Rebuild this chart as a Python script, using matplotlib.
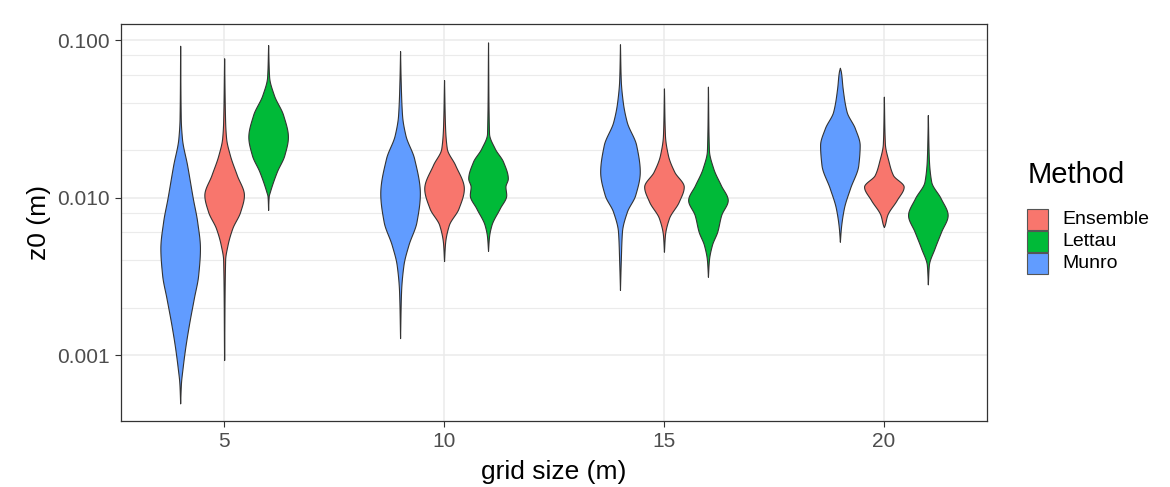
import numpy as np
import matplotlib
matplotlib.use("Agg")
import matplotlib.pyplot as plt
from matplotlib.ticker import FixedLocator, NullFormatter
from matplotlib.patches import Rectangle

plt.rcParams['font.family'] = ['Liberation Sans', 'DejaVu Sans']

# ---------------- data ----------------
grid_sizes = [5, 10, 15, 20]
methods = ["Ensemble", "Lettau", "Munro"]
method_offset = [0, 1, -1]          # x shift of each method from the grid size
method_colors = ["#F8766D", "#00BA38", "#619CFF"]

y_ticks = [0.001, 0.01, 0.1]
y_tick_labels = ["0.001", "0.010", "0.100"]
x_ticks = [5, 10, 15, 20]

# violin profiles: z0 levels (m) and relative half-width (0..1)
ens_5_z = [0.0766, 0.0303, 0.0238, 0.0186, 0.0139, 0.01038, 0.00813, 0.00637, 0.00499, 0.00401, 0.000929]
ens_5_w = [0.0, 0.05, 0.10, 0.29, 0.64, 1.0, 0.81, 0.41, 0.17, 0.05, 0.0]
let_5_z = [0.0929, 0.0585, 0.0448, 0.0334, 0.0243, 0.0186, 0.0146, 0.01089, 0.0102, 0.00834]
let_5_w = [0.0, 0.05, 0.29, 0.76, 1.0, 0.82, 0.44, 0.09, 0.03, 0.0]
mun_5_z = [0.0920, 0.0318, 0.0238, 0.0161, 0.00989, 0.00703, 0.00476, 0.00322, 0.00229, 0.00155, 0.00110, 0.000822, 0.000661, 0.000493]
mun_5_w = [0.0, 0.03, 0.09, 0.35, 0.64, 0.86, 1.0, 0.91, 0.69, 0.44, 0.25, 0.12, 0.04, 0.0]

ens_10_z = [0.0557, 0.0282, 0.0205, 0.0161, 0.01143, 0.00853, 0.00668, 0.00512, 0.00395]
ens_10_w = [0.0, 0.05, 0.14, 0.56, 1.0, 0.73, 0.24, 0.05, 0.0]
let_10_z = [0.0966, 0.0256, 0.0205, 0.0169, 0.01324, 0.01172, 0.01038, 0.00853, 0.00668, 0.00564, 0.00459]
let_10_w = [0.0, 0.05, 0.34, 0.76, 1.0, 0.88, 0.92, 0.59, 0.17, 0.05, 0.0]
mun_10_z = [0.0851, 0.0557, 0.0334, 0.0249, 0.0177, 0.01062, 0.00703, 0.00499, 0.00372, 0.00252, 0.00128]
mun_10_w = [0.0, 0.03, 0.10, 0.27, 0.71, 1.0, 0.83, 0.42, 0.17, 0.05, 0.0]

ens_15_z = [0.0493, 0.0249, 0.0186, 0.0146, 0.01172, 0.00942, 0.00738, 0.00578, 0.00453]
ens_15_w = [0.0, 0.05, 0.20, 0.52, 1.0, 0.75, 0.25, 0.05, 0.0]
let_15_z = [0.0506, 0.0200, 0.0153, 0.0120, 0.00964, 0.00774, 0.00607, 0.00499, 0.00401, 0.00314]
let_15_w = [0.0, 0.05, 0.27, 0.65, 1.0, 0.67, 0.47, 0.20, 0.05, 0.0]
mun_15_z = [0.0940, 0.0557, 0.0406, 0.0303, 0.0215, 0.0146, 0.01038, 0.00813, 0.00607, 0.00392, 0.00259]
mun_15_w = [0.0, 0.04, 0.14, 0.34, 0.82, 1.0, 0.77, 0.35, 0.10, 0.04, 0.0]

ens_20_z = [0.0437, 0.0221, 0.0169, 0.0139, 0.01172, 0.00964, 0.00774, 0.00662, 0.00650]
ens_20_w = [0.0, 0.05, 0.24, 0.46, 1.0, 0.65, 0.17, 0.03, 0.0]
let_20_z = [0.0334, 0.0177, 0.01262, 0.00989, 0.00774, 0.00607, 0.00476, 0.00372, 0.00281]
let_20_w = [0.0, 0.05, 0.17, 0.65, 1.0, 0.67, 0.34, 0.05, 0.0]
mun_20_z = [0.0667, 0.0630, 0.0493, 0.0351, 0.0275, 0.0215, 0.0161, 0.01143, 0.00853, 0.00637, 0.00524]
mun_20_w = [0.0, 0.05, 0.14, 0.34, 0.76, 1.0, 0.93, 0.51, 0.20, 0.05, 0.0]

profiles = {
    ("Ensemble", 5): (ens_5_z, ens_5_w), ("Lettau", 5): (let_5_z, let_5_w), ("Munro", 5): (mun_5_z, mun_5_w),
    ("Ensemble", 10): (ens_10_z, ens_10_w), ("Lettau", 10): (let_10_z, let_10_w), ("Munro", 10): (mun_10_z, mun_10_w),
    ("Ensemble", 15): (ens_15_z, ens_15_w), ("Lettau", 15): (let_15_z, let_15_w), ("Munro", 15): (mun_15_z, mun_15_w),
    ("Ensemble", 20): (ens_20_z, ens_20_w), ("Lettau", 20): (let_20_z, let_20_w), ("Munro", 20): (mun_20_z, mun_20_w),
}


def pchip_outline(xk, yk, n=300):
    """Smooth monotone (Fritsch-Carlson) curve through the read outline points."""
    xk = np.asarray(xk, float)
    yk = np.asarray(yk, float)
    h = np.diff(xk)
    d = np.diff(yk) / h
    m = np.zeros_like(yk)
    for i in range(1, len(xk) - 1):
        if d[i - 1] * d[i] > 0:
            w1 = 2 * h[i] + h[i - 1]
            w2 = h[i] + 2 * h[i - 1]
            m[i] = (w1 + w2) / (w1 / d[i - 1] + w2 / d[i])
    m[0] = d[0] if len(d) else 0
    m[-1] = d[-1] if len(d) else 0
    xs = np.linspace(xk[0], xk[-1], n)
    idx = np.clip(np.searchsorted(xk, xs) - 1, 0, len(xk) - 2)
    t = (xs - xk[idx]) / h[idx]
    h00 = 2 * t**3 - 3 * t**2 + 1
    h10 = t**3 - 2 * t**2 + t
    h01 = -2 * t**3 + 3 * t**2
    h11 = t**3 - t**2
    ys = h00 * yk[idx] + h10 * h[idx] * m[idx] + h01 * yk[idx + 1] + h11 * h[idx] * m[idx + 1]
    return xs, np.clip(ys, 0, None)


# ---------------- figure ----------------
W, H = 1170, 487
fig = plt.figure(figsize=(W / 100, H / 100), dpi=100)
L, R, T, B = 121, 987, 24, 421
ax = fig.add_axes([L / W, 1 - B / H, (R - L) / W, (B - T) / H])

ax.set_yscale('log')
ax.set_xlim(2.655, 22.345)
ax.set_ylim(10 ** -3.419, 10 ** -0.898)

half_max = 0.45
for mi, m in enumerate(methods):
    for g in grid_sizes:
        z, w = profiles[(m, g)]
        lz = np.log10(np.asarray(z))[::-1]
        ww = np.asarray(w)[::-1]
        lzs, ws = pchip_outline(lz, ww)
        zs = 10 ** lzs
        ws = ws * half_max
        xc = g + method_offset[mi]
        ax.fill_betweenx(zs, xc - ws, xc + ws, facecolor=method_colors[mi],
                         edgecolor='#333333', linewidth=0.8, zorder=3)

# grid
minor_ys = [2e-3, 4e-3, 6e-3, 8e-3, 2e-2, 4e-2, 6e-2, 8e-2]
ax.yaxis.set_major_locator(FixedLocator(y_ticks))
ax.set_yticklabels(y_tick_labels)
ax.yaxis.set_minor_locator(FixedLocator(minor_ys))
ax.yaxis.set_minor_formatter(NullFormatter())
ax.set_xticks(x_ticks)
ax.set_xticklabels([str(v) for v in x_ticks])
ax.grid(True, which='major', color='#EBEBEB', linewidth=1.1, zorder=0)
ax.grid(True, which='minor', axis='y', color='#EBEBEB', linewidth=0.8, zorder=0)
ax.set_axisbelow(True)

for s in ax.spines.values():
    s.set_color('#333333')
    s.set_linewidth(0.9)

ax.tick_params(which='major', length=4.3, width=0.8, color='#333333',
               labelcolor='#4D4D4D', labelsize=15, pad=3.5)
ax.tick_params(which='minor', length=0)

ax.set_xlabel('grid size (m)', fontsize=19, color='black')
ax.xaxis.label.set_va('baseline')
ax.xaxis.set_label_coords(0.5, (B - 479) / (B - T))
ax.set_ylabel('z0 (m)', fontsize=19, color='black')
ax.yaxis.label.set_va('center')
ax.yaxis.label.set_rotation_mode('default')
ax.yaxis.set_label_coords((39 - L) / (R - L), 0.5)

# legend (ggplot-style, drawn in figure pixel positions)
fig.text(1028 / W, 1 - 183 / H, 'Method', fontsize=21, ha='left', va='baseline', color='black')
key_tops = [209, 231, 253]
for mi, m in enumerate(methods):
    top = key_tops[mi]
    fig.add_artist(Rectangle((1027 / W, 1 - (top + 21) / H), 21 / W, 21 / H,
                             transform=fig.transFigure, facecolor=method_colors[mi],
                             edgecolor='#555555', linewidth=0.8))
    fig.text(1062 / W, 1 - (top + 10.5) / H, m, fontsize=14, ha='left', va='center', color='black')

fig.savefig('out.png', dpi=100)
